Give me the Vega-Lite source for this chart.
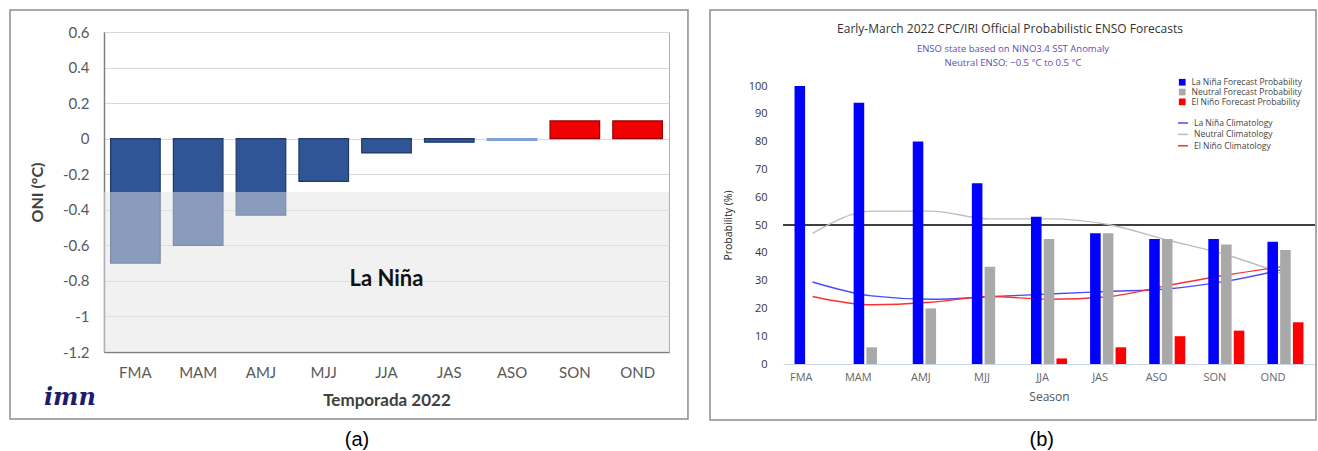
{
  "$schema": "https://vega.github.io/schema/vega-lite/v6.json",
  "background": "white",
  "padding": {"left": 8, "top": 8, "right": 0, "bottom": 0},
  "spacing": 19,
  "config": {"view": {"stroke": null}, "axis": {"ticks": false, "labelOverlap": false}},
  "datasets": {
    "oni": [
      {"season": "FMA", "oni": -0.70, "phase": "cold"},
      {"season": "MAM", "oni": -0.60, "phase": "cold"},
      {"season": "AMJ", "oni": -0.43, "phase": "cold"},
      {"season": "MJJ", "oni": -0.24, "phase": "cold"},
      {"season": "JJA", "oni": -0.08, "phase": "cold"},
      {"season": "JAS", "oni": -0.02, "phase": "cold"},
      {"season": "ASO", "oni": -0.01, "phase": "weak"},
      {"season": "SON", "oni": 0.10, "phase": "warm"},
      {"season": "OND", "oni": 0.10, "phase": "warm"}
    ],
    "forecast": [
      {"season": "FMA", "series": "La Niña Forecast Probability", "prob": 100},
      {"season": "FMA", "series": "Neutral Forecast Probability", "prob": 0},
      {"season": "FMA", "series": "El Niño Forecast Probability", "prob": 0},
      {"season": "MAM", "series": "La Niña Forecast Probability", "prob": 94},
      {"season": "MAM", "series": "Neutral Forecast Probability", "prob": 6},
      {"season": "MAM", "series": "El Niño Forecast Probability", "prob": 0},
      {"season": "AMJ", "series": "La Niña Forecast Probability", "prob": 80},
      {"season": "AMJ", "series": "Neutral Forecast Probability", "prob": 20},
      {"season": "AMJ", "series": "El Niño Forecast Probability", "prob": 0},
      {"season": "MJJ", "series": "La Niña Forecast Probability", "prob": 65},
      {"season": "MJJ", "series": "Neutral Forecast Probability", "prob": 35},
      {"season": "MJJ", "series": "El Niño Forecast Probability", "prob": 0},
      {"season": "JJA", "series": "La Niña Forecast Probability", "prob": 53},
      {"season": "JJA", "series": "Neutral Forecast Probability", "prob": 45},
      {"season": "JJA", "series": "El Niño Forecast Probability", "prob": 2},
      {"season": "JAS", "series": "La Niña Forecast Probability", "prob": 47},
      {"season": "JAS", "series": "Neutral Forecast Probability", "prob": 47},
      {"season": "JAS", "series": "El Niño Forecast Probability", "prob": 6},
      {"season": "ASO", "series": "La Niña Forecast Probability", "prob": 45},
      {"season": "ASO", "series": "Neutral Forecast Probability", "prob": 45},
      {"season": "ASO", "series": "El Niño Forecast Probability", "prob": 10},
      {"season": "SON", "series": "La Niña Forecast Probability", "prob": 45},
      {"season": "SON", "series": "Neutral Forecast Probability", "prob": 43},
      {"season": "SON", "series": "El Niño Forecast Probability", "prob": 12},
      {"season": "OND", "series": "La Niña Forecast Probability", "prob": 44},
      {"season": "OND", "series": "Neutral Forecast Probability", "prob": 41},
      {"season": "OND", "series": "El Niño Forecast Probability", "prob": 15}
    ],
    "climatology": [
      {"season": "FMA", "series": "La Niña Climatology", "prob": 29.5},
      {"season": "MAM", "series": "La Niña Climatology", "prob": 24.5},
      {"season": "AMJ", "series": "La Niña Climatology", "prob": 23.3},
      {"season": "MJJ", "series": "La Niña Climatology", "prob": 24.2},
      {"season": "JJA", "series": "La Niña Climatology", "prob": 25.2},
      {"season": "JAS", "series": "La Niña Climatology", "prob": 26.1},
      {"season": "ASO", "series": "La Niña Climatology", "prob": 27.0},
      {"season": "SON", "series": "La Niña Climatology", "prob": 29.8},
      {"season": "OND", "series": "La Niña Climatology", "prob": 34.2},
      {"season": "FMA", "series": "Neutral Climatology", "prob": 47.0},
      {"season": "MAM", "series": "Neutral Climatology", "prob": 55.0},
      {"season": "AMJ", "series": "Neutral Climatology", "prob": 55.0},
      {"season": "MJJ", "series": "Neutral Climatology", "prob": 52.2},
      {"season": "JJA", "series": "Neutral Climatology", "prob": 52.2},
      {"season": "JAS", "series": "Neutral Climatology", "prob": 50.2},
      {"season": "ASO", "series": "Neutral Climatology", "prob": 44.6},
      {"season": "SON", "series": "Neutral Climatology", "prob": 39.3},
      {"season": "OND", "series": "Neutral Climatology", "prob": 32.0},
      {"season": "FMA", "series": "El Niño Climatology", "prob": 24.3},
      {"season": "MAM", "series": "El Niño Climatology", "prob": 21.3},
      {"season": "AMJ", "series": "El Niño Climatology", "prob": 22.2},
      {"season": "MJJ", "series": "El Niño Climatology", "prob": 24.3},
      {"season": "JJA", "series": "El Niño Climatology", "prob": 23.3},
      {"season": "JAS", "series": "El Niño Climatology", "prob": 24.2},
      {"season": "ASO", "series": "El Niño Climatology", "prob": 28.2},
      {"season": "SON", "series": "El Niño Climatology", "prob": 32.0},
      {"season": "OND", "series": "El Niño Climatology", "prob": 35.2}
    ]
  },
  "resolve": {"scale": {"fill": "independent", "stroke": "independent", "color": "independent"}},
  "hconcat": [
    {
      "width": 565,
      "height": 320,
      "view": {"stroke": "#b0b0b0", "strokeWidth": 1},
      "resolve": {"scale": {"x": "independent"}},
      "layer": [
        {
          "layer": [
            {
              "data": {"name": "oni"},
              "mark": {"type": "bar", "strokeWidth": 1.2},
              "encoding": {
                "x": {
                  "field": "season", "type": "nominal",
                  "sort": ["FMA", "MAM", "AMJ", "MJJ", "JJA", "JAS", "ASO", "SON", "OND"],
                  "scale": {"paddingInner": 0.21},
                  "axis": {"title": "Temporada 2022", "labelAngle": 0, "labelFont": "Lato", "labelFontSize": 15, "labelColor": "#595959", "labelPadding": 13, "ticks": false, "domainColor": "#7f7f7f", "domainWidth": 1.5, "titleFont": "Lato", "titleFontSize": 17, "titleFontWeight": "bold", "titleColor": "#404040", "titlePadding": 12}
                },
                "y": {
                  "field": "oni", "type": "quantitative",
                  "scale": {"domain": [-1.2, 0.6], "nice": false, "zero": false},
                  "axis": {"title": "ONI (°C)", "values": [-1.2, -1, -0.8, -0.6, -0.4, -0.2, 0, 0.2, 0.4, 0.6], "tickCount": 30, "labelExpr": "'' + datum.value", "labelFont": "Lato", "labelFontSize": 15, "labelColor": "#595959", "labelPadding": 15, "ticks": false, "domainColor": "#7f7f7f", "domainWidth": 1.5, "gridColor": "#d9d9d9", "gridWidth": 1.2, "titleFont": "Lato", "titleFontSize": 16, "titleFontWeight": "bold", "titleColor": "#404040", "titlePadding": 17}
                },
                "fill": {"field": "phase", "type": "nominal", "scale": {"domain": ["cold", "weak", "warm"], "range": ["#2f5597", "#8faadc", "#f00000"]}, "legend": null},
                "stroke": {"field": "phase", "type": "nominal", "scale": {"domain": ["cold", "weak", "warm"], "range": ["#1f3864", "#7f9fd6", "#9a0000"]}, "legend": null}
              }
            },
            {
              "data": {"values": [{}]},
              "mark": {"type": "rect", "fill": "#e3e3e3", "opacity": 0.5},
              "encoding": {"y": {"datum": -0.3}, "y2": {"datum": -1.2}}
            },
            {
              "data": {"values": [{}]},
              "mark": {"type": "text", "font": "Lato", "fontWeight": "bold", "fontSize": 22, "color": "#111111"},
              "encoding": {"x": {"datum": "JJA"}, "y": {"datum": -0.79}, "text": {"value": "La Niña"}}
            }
          ]
        },
        {
          "data": {"values": [{}]},
          "layer": [
            {
              "mark": {"type": "rect", "filled": false, "stroke": "#8c8c8c", "strokeWidth": 1.5},
              "encoding": {
                "x": {"datum": -0.1664, "type": "quantitative", "scale": {"domain": [0, 1], "nice": false, "zero": false}, "axis": null},
                "x2": {"datum": 1.0336},
                "y": {"datum": 0.7237},
                "y2": {"datum": -1.5769}
              }
            },
            {
              "mark": {"type": "text", "font": "DejaVu Serif", "fontStyle": "italic", "fontWeight": "bold", "fontSize": 24, "color": "#1c1c6c", "baseline": "alphabetic"},
              "encoding": {"x": {"datum": -0.0602, "type": "quantitative"}, "y": {"datum": -1.498}, "text": {"value": "imn"}}
            },
            {
              "mark": {"type": "text", "font": "Liberation Sans", "fontSize": 20, "color": "#000000"},
              "encoding": {"x": {"datum": 0.4478, "type": "quantitative"}, "y": {"datum": -1.695}, "text": {"value": "(a)"}}
            }
          ]
        }
      ]
    },
    {
      "width": 532,
      "height": 332,
      "resolve": {"scale": {"x": "independent"}},
      "layer": [
        {
          "layer": [
            {
              "data": {"values": [{}]},
              "mark": {"type": "rule", "color": "#000000", "strokeWidth": 1.3},
              "encoding": {"y": {"datum": 50, "scale": {"domain": [0, 100], "nice": false, "range": [332, 54]}}}
            },
            {
              "data": {"name": "climatology"},
              "mark": {"type": "line", "interpolate": "monotone", "strokeWidth": 1.4},
              "encoding": {
                "x": {"field": "season", "type": "nominal", "sort": ["FMA", "MAM", "AMJ", "MJJ", "JJA", "JAS", "ASO", "SON", "OND"], "scale": {"paddingInner": 0.39}},
                "y": {"field": "prob", "type": "quantitative", "scale": {"domain": [0, 100], "nice": false, "range": [332, 54]}},
                "stroke": {
                  "field": "series", "type": "nominal",
                  "scale": {"domain": ["La Niña Climatology", "Neutral Climatology", "El Niño Climatology"], "range": ["#4a4aff", "#bdbdbd", "#ff3030"]},
                  "legend": {"orient": "none", "legendX": 394, "legendY": 85, "title": null, "symbolType": "stroke", "symbolSize": 100, "symbolStrokeWidth": 1.5, "labelFont": "Open Sans", "labelFontSize": 8.5, "labelColor": "#444444", "rowPadding": 0.4, "labelOffset": 5, "padding": 0, "labelLimit": 300}
                }
              }
            },
            {
              "data": {"name": "forecast"},
              "mark": {"type": "bar"},
              "encoding": {
                "x": {
                  "field": "season", "type": "nominal",
                  "sort": ["FMA", "MAM", "AMJ", "MJJ", "JJA", "JAS", "ASO", "SON", "OND"],
                  "scale": {"paddingInner": 0.39},
                  "axis": {"title": "Season", "labelAngle": 0, "labelFont": "Open Sans", "labelFontSize": 11, "labelColor": "#666666", "labelPadding": 13, "ticks": false, "domainColor": "#ccd6eb", "domainWidth": 1, "titleFont": "Open Sans", "titleFontSize": 12, "titleFontWeight": "normal", "titleColor": "#4d5660", "titlePadding": 9}
                },
                "xOffset": {"field": "series", "type": "nominal", "sort": ["La Niña Forecast Probability", "Neutral Forecast Probability", "El Niño Forecast Probability"], "scale": {"paddingInner": 0.17}},
                "y": {
                  "field": "prob", "type": "quantitative",
                  "scale": {"domain": [0, 100], "nice": false, "range": [332, 54]},
                  "axis": {"title": "Probability (%)", "values": [0, 10, 20, 30, 40, 50, 60, 70, 80, 90, 100], "tickCount": 30, "labelFont": "Open Sans", "labelFontSize": 11, "labelColor": "#333333", "labelPadding": 16, "domain": false, "ticks": false, "gridColor": "#e6e6e6", "titleFont": "Open Sans", "titleFontSize": 10.5, "titleFontWeight": "normal", "titleColor": "#222222", "titlePadding": 15, "titleY": 193}
                },
                "color": {
                  "field": "series", "type": "nominal",
                  "scale": {"domain": ["La Niña Forecast Probability", "Neutral Forecast Probability", "El Niño Forecast Probability"], "range": ["#0000ff", "#a9a9a9", "#ff0000"]},
                  "legend": {"orient": "none", "legendX": 395, "legendY": 46, "title": null, "symbolType": "square", "symbolSize": 45, "symbolStrokeWidth": 0, "labelFont": "Open Sans", "labelFontSize": 8.5, "labelColor": "#444444", "rowPadding": 0.8, "labelOffset": 5, "padding": 0, "labelLimit": 300}
                }
              }
            }
          ]
        },
        {
          "data": {"values": [{}]},
          "layer": [
            {
              "mark": {"type": "rect", "filled": false, "stroke": "#8c8c8c", "strokeWidth": 1.5},
              "encoding": {
                "x": {"datum": -0.1372, "type": "quantitative", "scale": {"domain": [0, 1], "nice": false, "zero": false}, "axis": null},
                "x2": {"datum": 1.0019},
                "y": {"datum": 127.34},
                "y2": {"datum": -20.14}
              }
            },
            {
              "mark": {"type": "text", "font": "Open Sans", "fontSize": 12, "color": "#333333"},
              "encoding": {"x": {"datum": 0.4267, "type": "quantitative"}, "y": {"datum": 120.6}, "text": {"value": "Early-March 2022 CPC/IRI Official Probabilistic ENSO Forecasts"}}
            },
            {
              "mark": {"type": "text", "font": "Open Sans", "fontSize": 9.5, "color": "#5a4fb5"},
              "encoding": {"x": {"datum": 0.4323, "type": "quantitative"}, "y": {"datum": 113.4}, "text": {"value": "ENSO state based on NINO3.4 SST Anomaly"}}
            },
            {
              "mark": {"type": "text", "font": "Open Sans", "fontSize": 9.5, "color": "#5a4fb5"},
              "encoding": {"x": {"datum": 0.4323, "type": "quantitative"}, "y": {"datum": 108.2}, "text": {"value": "Neutral ENSO: −0.5 °C to 0.5 °C"}}
            },
            {
              "mark": {"type": "text", "font": "Liberation Sans", "fontSize": 20, "color": "#000000"},
              "encoding": {"x": {"datum": 0.4863, "type": "quantitative"}, "y": {"datum": -27.34}, "text": {"value": "(b)"}}
            }
          ]
        }
      ]
    }
  ]
}
